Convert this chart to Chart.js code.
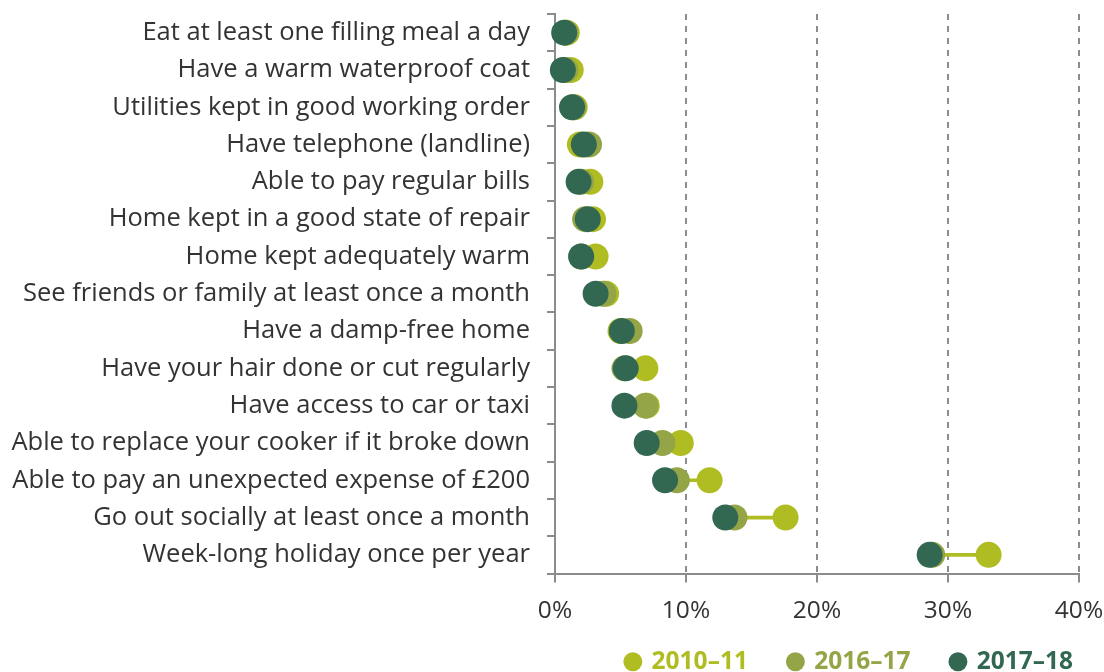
<!DOCTYPE html>
<html>
<head>
<meta charset="utf-8">
<script src="https://cdn.jsdelivr.net/npm/chart.js@4"></script>
<style>
  html, body { margin: 0; padding: 0; background: #fff; }
  #wrap { width: 1104px; height: 672px; }
</style>
</head>
<body>
<div id="wrap"><canvas id="dotChart"></canvas></div>
<script>
// Categories and values (% of pensioners lacking each item)
const categories = [
    'Eat at least one filling meal a day',
    'Have a warm waterproof coat',
    'Utilities kept in good working order',
    'Have telephone (landline)',
    'Able to pay regular bills',
    'Home kept in a good state of repair',
    'Home kept adequately warm',
    'See friends or family at least once a month',
    'Have a damp-free home',
    'Have your hair done or cut regularly',
    'Have access to car or taxi',
    'Able to replace your cooker if it broke down',
    'Able to pay an unexpected expense of £200',
    'Go out socially at least once a month',
    'Week-long holiday once per year'
];
const y2010 = [0.9, 1.2, 1.5, 1.9, 2.7, 2.9, 3.1, 3.9, 5.0, 6.9, 7.0, 9.6, 11.8, 17.6, 33.1];
const y2016 = [0.8, 0.8, 1.4, 2.6, 2.0, 2.3, 2.0, 3.7, 5.7, 5.3, 6.9, 8.2, 9.3, 13.7, 28.8];
const y2017 = [0.7, 0.6, 1.3, 2.2, 1.8, 2.5, 2.0, 3.1, 5.1, 5.4, 5.3, 7.0, 8.4, 13.0, 28.6];
const seriesNames = ['2010\u201311', '2016\u201317', '2017\u201318'];
const xTicks = [0, 10, 20, 30, 40];

const LIME = '#AFBD22';
const OLIVE = '#94A547';
const DARK = '#326852';
const GREY = '#8c8c8c';
const FONT = "'Open Sans', 'Noto Sans', sans-serif";

// Connector between the 2017-18 and 2010-11 dots
const connector = y2017.map(function(v, i) { return [v, y2010[i]]; });

function dots(label, data, color, order) {
    return {
        type: 'line',
        label: label,
        data: data,
        indexAxis: 'y',
        showLine: false,
        backgroundColor: color,
        borderColor: color,
        pointRadius: 13,
        pointHoverRadius: 13,
        pointBorderWidth: 0,
        pointStyle: 'circle',
        order: order,
        clip: false
    };
}

// x axis is squeezed to sit close to the legend, so let its labels draw below its box;
// legend nudged a little past the right edge like the original
const labelRoom = {
    id: 'labelRoom',
    afterLayout: function(chart) {
        chart.scales.x.bottom = chart.height;
        chart.legend.left += 10;
        chart.legend.right += 10;
    }
};

const ctx = document.getElementById('dotChart').getContext('2d');
new Chart(ctx, {
    type: 'bar',
    data: {
        labels: categories,
        datasets: [
            dots(seriesNames[0], y2010, LIME, 2),
            dots(seriesNames[1], y2016, OLIVE, 1),
            dots(seriesNames[2], y2017, DARK, 0),
            {
                type: 'bar',
                label: 'range',
                data: connector,
                backgroundColor: LIME,
                barThickness: 3,
                order: 3
            }
        ]
    },
    plugins: [labelRoom],
    options: {
        indexAxis: 'y',
        responsive: true,
        maintainAspectRatio: false,
        animation: false,
        layout: { padding: { top: 14, right: 0, left: 0, bottom: -12 } },
        scales: {
            x: {
                type: 'linear',
                min: 0,
                max: 40,
                afterBuildTicks: function(scale) {
                    scale.ticks = xTicks.map(function(v) { return { value: v }; });
                },
                afterFit: function(scale) {
                    scale.height = 35;
                    scale.paddingRight = 25;
                    scale.paddingLeft = 0;
                },
                ticks: {
                    color: '#333',
                    padding: 14,
                    maxRotation: 0,
                    font: { family: FONT, size: 24.5 },
                    callback: function(v) { return v + '%'; }
                },
                grid: {
                    color: GREY,
                    lineWidth: 2,
                    tickColor: GREY,
                    tickLength: 9,
                    tickBorderDash: [],
                    drawOnChartArea: true
                },
                border: { display: true, color: GREY, width: 2, dash: [6, 6] }
            },
            y: {
                type: 'category',
                offset: true,
                afterFit: function(scale) {
                    scale.width = 555;
                    scale.paddingTop = 0;
                    scale.paddingBottom = 0;
                },
                ticks: {
                    color: '#333',
                    padding: 17,
                    autoSkip: false,
                    font: { family: FONT, size: 25.5 }
                },
                grid: {
                    offset: true,
                    drawOnChartArea: false,
                    color: GREY,
                    lineWidth: 2,
                    tickLength: 8
                },
                border: { display: true, color: GREY, width: 2 }
            }
        },
        plugins: {
            tooltip: { enabled: false },
            legend: {
                position: 'bottom',
                align: 'end',
                labels: {
                    usePointStyle: true,
                    boxWidth: 13,
                    boxHeight: 13.4,
                    padding: 41,
                    font: { family: FONT, size: 24.5, weight: 'bold' },
                    filter: function(item) { return item.datasetIndex < 3; },
                    sort: function(a, b) { return a.datasetIndex - b.datasetIndex; },
                    generateLabels: function(chart) {
                        const items = Chart.defaults.plugins.legend.labels.generateLabels(chart);
                        items.forEach(function(it) {
                            const ds = chart.data.datasets[it.datasetIndex];
                            it.fontColor = ds.backgroundColor;
                            it.fillStyle = ds.backgroundColor;
                            it.strokeStyle = ds.backgroundColor;
                            it.lineWidth = 0;
                            it.pointStyle = 'circle';
                        });
                        return items;
                    }
                }
            }
        }
    }
});
</script>
</body>
</html>
